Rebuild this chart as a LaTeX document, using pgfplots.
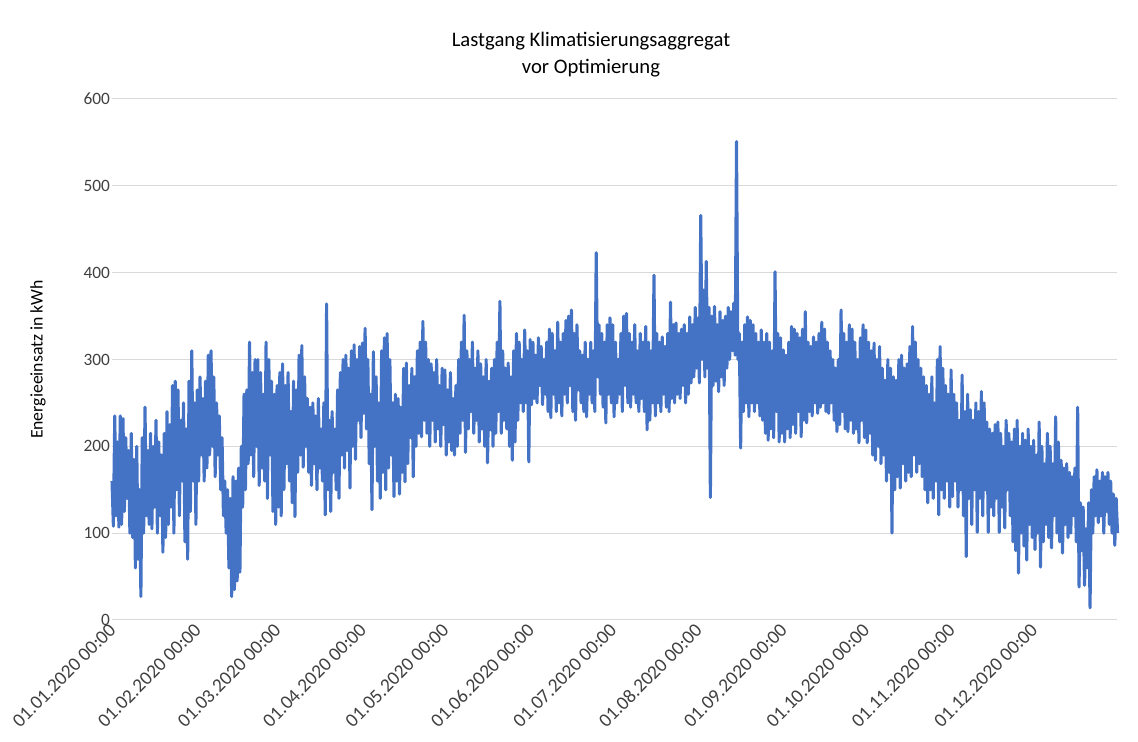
\documentclass[border=0pt]{standalone}
\usepackage{fontspec}
\setmainfont{Carlito}
\usepackage{pgfplots}
\usepackage{pgfplotstable}
\pgfplotsset{compat=1.18}
\definecolor{exblue}{HTML}{4472C4}
\definecolor{gridgrey}{HTML}{D9D9D9}
\definecolor{txtgrey}{HTML}{404040}
\begin{document}
\begin{tikzpicture}
\useasboundingbox (0,0) rectangle (853.5pt,556.5pt);
\begin{axis}[
  at={(84pt,91.5pt)}, anchor=south west,
  scale only axis, width=753.75pt, height=390.75pt,
  xmin=0, xmax=365.3, ymin=0, ymax=600,
  ytick={0,100,...,600},
  xtick={0,31,60,91,121,152,182,213,244,274,305,335},
  xticklabels={01.01.2020 00:00,01.02.2020 00:00,01.03.2020 00:00,01.04.2020 00:00,01.05.2020 00:00,01.06.2020 00:00,01.07.2020 00:00,01.08.2020 00:00,01.09.2020 00:00,01.10.2020 00:00,01.11.2020 00:00,01.12.2020 00:00},
  major tick length=0pt,
  axis line style={draw=none},
  ymajorgrids, grid style={gridgrey, line width=0.75pt},
  /pgf/number format/assume math mode=true,
  yticklabel style={font=\fontsize{13}{15}\selectfont, color=txtgrey, xshift=2pt},
  xticklabel style={font=\fontsize{14.5}{16}\selectfont, color=txtgrey, rotate=45, anchor=east, yshift=-4pt},
  ylabel={Energieeinsatz in kWh},
  ylabel style={font=\fontsize{13.3}{15}\selectfont, color=black, at={(axis description cs:-0.0736,0.5)}, anchor=center},
  title={Lastgang Klimatisierungsaggregat\\vor Optimierung},
  title style={font=\fontsize{15.5}{20}\selectfont, color=black, align=center, at={(axis description cs:0.4766,1.070)}, anchor=center, yshift=0pt},
  clip=false,
]
\addplot[exblue, line width=2.3pt, line join=round] table[row sep=\\, x expr=\coordindex/2, y index=0] {
y\\
160\\ 108\\ 235\\ 120\\ 205\\ 107\\ 235\\ 110\\ 232\\ 125\\
210\\ 140\\ 195\\ 100\\ 215\\ 95\\ 185\\ 60\\ 200\\ 70\\
150\\ 27\\ 210\\ 100\\ 245\\ 120\\ 195\\ 110\\ 215\\ 105\\
200\\ 130\\ 230\\ 100\\ 205\\ 120\\ 190\\ 78\\ 215\\ 95\\
240\\ 110\\ 225\\ 130\\ 270\\ 100\\ 275\\ 150\\ 265\\ 120\\
230\\ 160\\ 250\\ 90\\ 220\\ 70\\ 275\\ 125\\ 310\\ 160\\
250\\ 110\\ 265\\ 160\\ 280\\ 190\\ 255\\ 160\\ 275\\ 175\\
305\\ 190\\ 310\\ 200\\ 280\\ 165\\ 250\\ 190\\ 235\\ 150\\
210\\ 120\\ 160\\ 100\\ 150\\ 60\\ 140\\ 27\\ 165\\ 35\\
160\\ 45\\ 175\\ 55\\ 200\\ 130\\ 260\\ 150\\ 265\\ 180\\
320\\ 190\\ 285\\ 165\\ 300\\ 200\\ 300\\ 155\\ 285\\ 175\\
260\\ 160\\ 320\\ 140\\ 300\\ 190\\ 275\\ 125\\ 260\\ 110\\
270\\ 130\\ 285\\ 120\\ 295\\ 150\\ 270\\ 180\\ 285\\ 160\\
240\\ 135\\ 275\\ 119\\ 265\\ 170\\ 305\\ 190\\ 316\\ 176\\
280\\ 200\\ 255\\ 170\\ 245\\ 155\\ 250\\ 180\\ 235\\ 150\\
255\\ 175\\ 220\\ 160\\ 250\\ 121\\ 364\\ 150\\ 230\\ 125\\
240\\ 170\\ 220\\ 150\\ 265\\ 140\\ 285\\ 190\\ 300\\ 175\\
305\\ 195\\ 290\\ 152\\ 310\\ 200\\ 317\\ 185\\ 300\\ 230\\
315\\ 210\\ 319\\ 238\\ 336\\ 220\\ 300\\ 180\\ 260\\ 127\\
309\\ 200\\ 280\\ 160\\ 250\\ 140\\ 310\\ 170\\ 325\\ 150\\
330\\ 175\\ 300\\ 190\\ 250\\ 142\\ 260\\ 160\\ 255\\ 145\\
245\\ 170\\ 290\\ 159\\ 296\\ 180\\ 270\\ 210\\ 290\\ 165\\
280\\ 200\\ 310\\ 215\\ 320\\ 211\\ 344\\ 230\\ 320\\ 215\\
300\\ 200\\ 295\\ 230\\ 285\\ 205\\ 300\\ 220\\ 270\\ 200\\
290\\ 225\\ 288\\ 190\\ 265\\ 205\\ 285\\ 195\\ 255\\ 190\\
270\\ 200\\ 300\\ 215\\ 320\\ 230\\ 351\\ 193\\ 310\\ 220\\
300\\ 240\\ 320\\ 215\\ 290\\ 230\\ 310\\ 205\\ 295\\ 220\\
280\\ 200\\ 300\\ 181\\ 275\\ 219\\ 290\\ 200\\ 300\\ 215\\
320\\ 240\\ 367\\ 215\\ 310\\ 230\\ 290\\ 220\\ 296\\ 200\\
280\\ 184\\ 310\\ 205\\ 330\\ 230\\ 320\\ 250\\ 300\\ 240\\
334\\ 250\\ 310\\ 182\\ 323\\ 248\\ 320\\ 255\\ 305\\ 250\\
325\\ 270\\ 315\\ 248\\ 300\\ 260\\ 320\\ 240\\ 335\\ 233\\
330\\ 260\\ 310\\ 240\\ 343\\ 250\\ 320\\ 235\\ 330\\ 260\\
345\\ 250\\ 350\\ 270\\ 357\\ 240\\ 330\\ 230\\ 340\\ 265\\
310\\ 250\\ 305\\ 240\\ 320\\ 234\\ 300\\ 260\\ 320\\ 250\\
310\\ 240\\ 423\\ 280\\ 340\\ 260\\ 330\\ 245\\ 320\\ 227\\
340\\ 260\\ 348\\ 250\\ 340\\ 234\\ 320\\ 250\\ 300\\ 260\\
330\\ 240\\ 350\\ 270\\ 353\\ 250\\ 330\\ 245\\ 320\\ 260\\
340\\ 250\\ 310\\ 240\\ 330\\ 255\\ 320\\ 240\\ 338\\ 219\\
320\\ 230\\ 310\\ 250\\ 397\\ 235\\ 330\\ 250\\ 320\\ 240\\
326\\ 260\\ 315\\ 245\\ 330\\ 240\\ 366\\ 255\\ 340\\ 250\\
342\\ 260\\ 330\\ 255\\ 335\\ 270\\ 340\\ 250\\ 330\\ 260\\
349\\ 273\\ 340\\ 280\\ 360\\ 290\\ 348\\ 273\\ 466\\ 300\\
380\\ 280\\ 413\\ 290\\ 360\\ 141\\ 350\\ 270\\ 361\\ 275\\
340\\ 263\\ 355\\ 280\\ 345\\ 270\\ 350\\ 290\\ 360\\ 300\\
355\\ 310\\ 365\\ 305\\ 551\\ 300\\ 330\\ 198\\ 320\\ 240\\
340\\ 250\\ 349\\ 234\\ 345\\ 250\\ 340\\ 240\\ 330\\ 250\\
320\\ 235\\ 334\\ 230\\ 320\\ 215\\ 330\\ 207\\ 320\\ 220\\
310\\ 210\\ 401\\ 240\\ 330\\ 205\\ 325\\ 215\\ 311\\ 205\\
305\\ 220\\ 320\\ 210\\ 338\\ 225\\ 335\\ 215\\ 330\\ 240\\
325\\ 211\\ 335\\ 230\\ 355\\ 227\\ 320\\ 240\\ 315\\ 235\\
326\\ 250\\ 320\\ 238\\ 330\\ 245\\ 343\\ 250\\ 335\\ 240\\
320\\ 238\\ 310\\ 250\\ 300\\ 230\\ 290\\ 217\\ 300\\ 225\\
357\\ 240\\ 330\\ 220\\ 320\\ 217\\ 340\\ 230\\ 335\\ 215\\
320\\ 220\\ 300\\ 204\\ 325\\ 230\\ 340\\ 210\\ 334\\ 204\\
320\\ 215\\ 310\\ 190\\ 319\\ 184\\ 300\\ 200\\ 315\\ 180\\
290\\ 190\\ 276\\ 160\\ 300\\ 170\\ 290\\ 100\\ 280\\ 150\\
276\\ 165\\ 300\\ 152\\ 305\\ 180\\ 290\\ 160\\ 295\\ 170\\
315\\ 165\\ 338\\ 190\\ 320\\ 170\\ 300\\ 180\\ 290\\ 165\\
280\\ 150\\ 270\\ 135\\ 260\\ 150\\ 280\\ 140\\ 250\\ 160\\
300\\ 121\\ 315\\ 150\\ 290\\ 140\\ 270\\ 160\\ 260\\ 130\\
288\\ 142\\ 260\\ 160\\ 250\\ 130\\ 230\\ 150\\ 282\\ 120\\
240\\ 73\\ 260\\ 140\\ 242\\ 110\\ 230\\ 150\\ 250\\ 101\\
240\\ 140\\ 263\\ 120\\ 250\\ 150\\ 228\\ 101\\ 220\\ 130\\
215\\ 120\\ 225\\ 140\\ 228\\ 101\\ 215\\ 130\\ 200\\ 106\\
230\\ 150\\ 215\\ 120\\ 205\\ 90\\ 220\\ 80\\ 230\\ 54\\
200\\ 100\\ 215\\ 85\\ 207\\ 69\\ 220\\ 110\\ 200\\ 95\\
207\\ 81\\ 190\\ 100\\ 228\\ 61\\ 200\\ 90\\ 180\\ 110\\
215\\ 95\\ 200\\ 83\\ 180\\ 120\\ 234\\ 100\\ 205\\ 90\\
184\\ 77\\ 175\\ 110\\ 180\\ 95\\ 170\\ 100\\ 165\\ 120\\
175\\ 90\\ 245\\ 38\\ 135\\ 80\\ 130\\ 40\\ 105\\ 60\\
135\\ 14\\ 150\\ 100\\ 165\\ 120\\ 173\\ 112\\ 160\\ 120\\
170\\ 100\\ 165\\ 125\\ 170\\ 110\\ 160\\ 100\\ 145\\ 86\\
140\\ 100\\
};
\end{axis}
\end{tikzpicture}
\end{document}
